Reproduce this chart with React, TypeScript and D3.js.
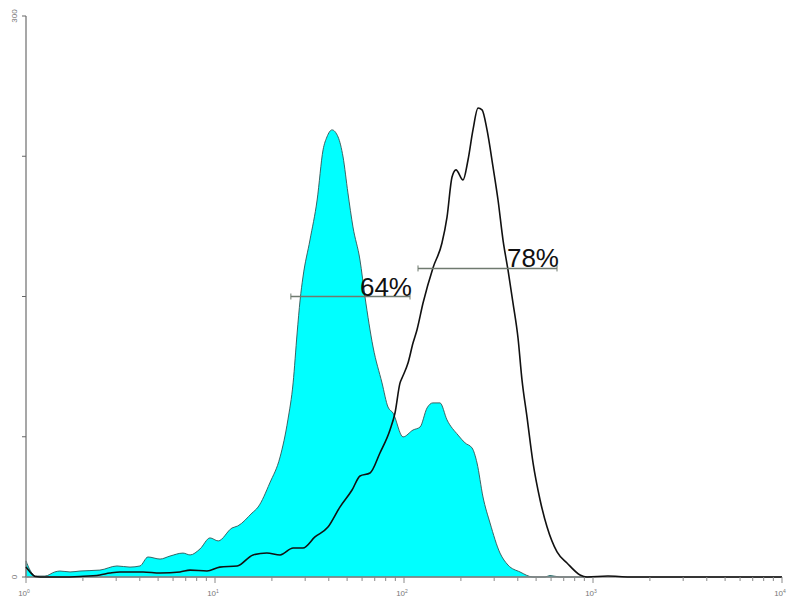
import React, { useEffect, useRef } from 'react';
import * as d3 from 'd3';

// Fluorescence intensity (x) and event counts (y)
const stainedX = [1.0, 1.05, 1.12, 1.26, 1.42, 1.51, 1.71, 1.93, 2.46, 3.03, 3.55, 4.01, 4.42, 5.12, 5.78, 6.77, 7.38, 8.33, 9.41, 10.4, 12.3, 13.2, 15.7, 16.9, 19.5, 22.1, 24.3, 25.9, 27.2, 28.2, 29.2, 31.8, 34.7, 37.3, 39.1, 41.6, 44.8, 47.6, 50.5, 53.7, 58.5, 62.2, 68.6, 76.5, 82.3, 87.5, 98.8, 111.6, 121.6, 132.4, 142.3, 155.0, 168.9, 193.1, 210.4, 229.2, 243.4, 261.8, 285.2, 322.1, 355.0, 410.9, 481.7, 557, 592, 668, 1000];
const stainedY = [8.6, 3.7, 0.5, 0.5, 2.7, 3.2, 2.7, 3.2, 3.7, 5.9, 5.3, 5.9, 10.7, 9.6, 11.2, 12.8, 11.8, 15.0, 20.9, 19.3, 26.2, 27.3, 34.2, 37.4, 50.3, 64.2, 84.0, 103.8, 130.5, 148.1, 160.4, 180.2, 201.6, 228.4, 235.3, 239.1, 235.3, 224.6, 205.4, 187.2, 169.5, 149.7, 123.0, 103.8, 90.9, 87.7, 74.9, 78.6, 80.2, 90.4, 93.1, 93.1, 84.0, 75.9, 71.7, 69.0, 61.0, 42.8, 28.9, 12.8, 6.4, 2.7, 0, 0, 0.8, 0, 0];

const controlX = [1.0, 1.05, 1.12, 1.26, 1.51, 1.93, 2.46, 2.78, 3.14, 4.16, 5.12, 6.53, 7.38, 9.07, 10.6, 13.1, 15.9, 18.8, 22.1, 25.9, 29.2, 33.8, 39.6, 45.8, 53.1, 58.5, 66.1, 74.6, 84.3, 89.6, 95.3, 97.6, 105.0, 111.6, 117.1, 126.1, 142.3, 158.8, 168.9, 179.5, 188.4, 205.2, 218.1, 231.7, 246.4, 258.8, 275.0, 295.8, 314.4, 334.1, 355.0, 377.4, 401.1, 421.0, 447.4, 481.7, 524.8, 571.5, 645.2, 728.4, 853.6, 930, 1200, 1560, 10000];
const controlY = [5.3, 2.7, 0.3, 0, 0, 0.3, 1.1, 2.1, 2.7, 2.7, 2.1, 2.7, 3.7, 3.2, 5.3, 5.9, 11.8, 12.8, 11.8, 15.5, 15.5, 21.4, 26.7, 37.4, 46.5, 54.0, 55.6, 66.3, 78.6, 87.7, 103.8, 106.4, 114.4, 125.1, 132.1, 146.5, 165.3, 178.6, 192.5, 213.9, 217.7, 212.3, 223.0, 239.1, 250.8, 249.8, 239.1, 219.3, 201.6, 180.2, 164.2, 146.5, 127.8, 105.4, 85.6, 61.0, 41.2, 26.7, 13.4, 7.5, 1.1, 0, 0.5, 0, 0];

// Marker gates
const gateFrom = [25.2, 118.6];
const gateTo = [107.6, 645];
const gateLevel = [150, 165];
const gateLabels = ['64%', '78%'];

const decadeTicks = [1, 10, 100, 1000, 10000];
const decadeExp = ['0', '1', '2', '3', '4'];
const countTicks = [0, 75, 150, 225, 300];
const countLabels = [0, 300];

const App = () => {
  const ref = useRef<SVGSVGElement>(null);

  useEffect(() => {
    const svg = d3.select(ref.current);
    svg.selectAll('*').remove();

    const x = d3.scaleLog().domain([1, 10000]).range([26, 782]);
    const y = d3.scaleLinear().domain([0, 300]).range([577, 16]);

    const stained = stainedX.map((v, i) => [v, stainedY[i]] as [number, number]);
    const control = controlX.map((v, i) => [v, controlY[i]] as [number, number]);

    // filled histogram
    const area = d3.area<[number, number]>()
      .x(d => x(d[0]))
      .y0(y(0))
      .y1(d => y(d[1]))
      .curve(d3.curveMonotoneX);

    svg.append('path')
      .datum(stained)
      .attr('d', area)
      .attr('fill', '#00ffff')
      .attr('stroke', '#2f5555')
      .attr('stroke-width', 0.9);

    // axes (gray)
    const axisColor = '#8a8a8a';
    svg.append('line')
      .attr('x1', x(1)).attr('x2', x(10000))
      .attr('y1', y(0)).attr('y2', y(0))
      .attr('stroke', axisColor).attr('stroke-width', 1.5);
    svg.append('line')
      .attr('x1', x(1)).attr('x2', x(1))
      .attr('y1', y(0)).attr('y2', y(300))
      .attr('stroke', axisColor).attr('stroke-width', 1.5);

    // outline histogram
    const line = d3.line<[number, number]>()
      .x(d => x(d[0]))
      .y(d => y(d[1]))
      .curve(d3.curveMonotoneX);

    svg.append('path')
      .datum(control)
      .attr('d', line)
      .attr('fill', 'none')
      .attr('stroke', '#111')
      .attr('stroke-width', 1.6);

    // x ticks: decades and minor ones
    const minor: number[] = [];
    decadeTicks.slice(0, -1).forEach(d => {
      for (let k = 2; k <= 9; k++) minor.push(d * k);
    });
    svg.selectAll('.minor')
      .data(minor)
      .enter()
      .append('line')
        .attr('x1', d => x(d)).attr('x2', d => x(d))
        .attr('y1', y(0)).attr('y2', y(0) + 4)
        .attr('stroke', axisColor).attr('stroke-width', 1);
    svg.selectAll('.major')
      .data(decadeTicks)
      .enter()
      .append('line')
        .attr('x1', d => x(d)).attr('x2', d => x(d))
        .attr('y1', y(0)).attr('y2', y(0) + 6)
        .attr('stroke', axisColor).attr('stroke-width', 1);

    const xl = svg.selectAll('.xlab')
      .data(decadeTicks)
      .enter()
      .append('text')
        .attr('x', d => x(d) - 2)
        .attr('y', 596)
        .attr('text-anchor', 'middle')
        .attr('font-family', 'Liberation Sans, Arial, sans-serif')
        .attr('font-size', 8)
        .attr('fill', '#777');
    xl.append('tspan').text('10');
    xl.append('tspan')
      .attr('dy', -3)
      .attr('font-size', 5)
      .text((_, i) => decadeExp[i]);

    // y ticks
    svg.selectAll('.ytick')
      .data(countTicks)
      .enter()
      .append('line')
        .attr('x1', x(1) - 4).attr('x2', x(1))
        .attr('y1', d => y(d)).attr('y2', d => y(d))
        .attr('stroke', '#666').attr('stroke-width', 1);

    svg.selectAll('.ylab')
      .data(countLabels)
      .enter()
      .append('text')
        .attr('transform', d => `translate(17, ${y(d)}) rotate(-90)`)
        .attr('text-anchor', 'middle')
        .attr('font-family', 'Liberation Sans, Arial, sans-serif')
        .attr('font-size', 8)
        .attr('fill', '#777')
        .text(d => d);

    // marker gates
    const gateColor = '#6f7a6f';
    gateLabels.forEach((label, i) => {
      const gy = y(gateLevel[i]);
      const x0 = x(gateFrom[i]);
      const x1 = x(gateTo[i]);
      svg.append('line')
        .attr('x1', x0).attr('x2', x1)
        .attr('y1', gy).attr('y2', gy)
        .attr('stroke', gateColor).attr('stroke-width', 1.5);
      [x0, x1].forEach(px => {
        svg.append('line')
          .attr('x1', px).attr('x2', px)
          .attr('y1', gy - 3).attr('y2', gy + 3)
          .attr('stroke', gateColor).attr('stroke-width', 1);
      });
      svg.append('text')
        .attr('x', x1 + 2)
        .attr('y', gy - 1)
        .attr('text-anchor', 'end')
        .attr('font-family', 'Liberation Sans, Arial, sans-serif')
        .attr('font-size', 26)
        .attr('fill', '#111')
        .text(label);
    });
  }, []);

  return (
    <svg
      ref={ref}
      width={800}
      height={602}
      style={{ position: 'absolute', left: 0, top: 0, background: '#fff' }}
    />
  );
};

export default App;
